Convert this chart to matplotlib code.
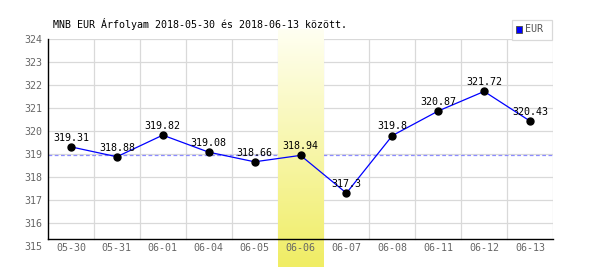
import numpy as np
import matplotlib.pyplot as plt
from matplotlib.patches import Rectangle

dates = ['05-30', '05-31', '06-01', '06-04', '06-05', '06-06',
         '06-07', '06-08', '06-11', '06-12', '06-13']
rates = [319.31, 318.88, 319.82, 319.08, 318.66, 318.94,
         317.3, 319.8, 320.87, 321.72, 320.43]
labels = ['319.31', '318.88', '319.82', '319.08', '318.66', '318.94',
          '317.3', '319.8', '320.87', '321.72', '320.43']
ref_level = 318.96
highlight = '06-06'
y_ticks = list(range(315, 325))
title = 'MNB EUR Árfolyam 2018-05-30 és 2018-06-13 között.'

mono = 'DejaVu Sans Mono'
fs = 7.2

fig = plt.figure(figsize=(6, 2.7), dpi=100)
ax = fig.add_axes([0.08, 0.0889, 0.8417, 0.7667])

x = np.arange(len(dates))
y_lo, y_hi = 315, 324
axis_y = 315.32

ax.set_xlim(-0.5, len(dates) - 0.5)
ax.set_ylim(y_lo, y_hi)

# grid
for yv in y_ticks[1:]:
    ax.plot([-0.5, len(dates) - 0.5], [yv, yv], color='#d9d9d9', lw=0.9, zorder=1)
for xv in np.arange(0.5, len(dates), 1):
    ax.plot([xv, xv], [axis_y, y_hi], color='#d9d9d9', lw=0.9, zorder=1)

ax.axhline(ref_level, color='#8c8cff', lw=0.9, ls=(0, (3, 2)), zorder=2)

# yellow gradient over the highlighted day (covers grid, under the data)
hi = dates.index(highlight)
grad = np.linspace(0, 1, 256).reshape(-1, 1)
top_c = np.array([255, 255, 242]) / 255
bot_c = np.array([240, 237, 100]) / 255
img = top_c + (bot_c - top_c) * grad[:, :, None] * np.ones((1, 1, 3))
ax.imshow(img, extent=(hi - 0.5, hi + 0.5, 314.09, 324.43), aspect='auto',
          origin='upper', zorder=2.5, clip_on=False)

ax.plot(x, rates, color='#0000ff', lw=0.9, zorder=3)
ax.plot(x, rates, 'o', color='black', ms=5, zorder=4)
for xi, yi, s in zip(x, rates, labels):
    ax.annotate(s, (xi, yi), xytext=(0, 4.5), textcoords='offset points',
                ha='center', va='baseline', fontsize=fs, family=mono,
                color='black', zorder=5)

for s in ['top', 'right']:
    ax.spines[s].set_visible(False)
ax.spines['left'].set_bounds(axis_y, y_hi)
ax.spines['bottom'].set_position(('data', axis_y))
ax.spines['left'].set_linewidth(1.0)
ax.spines['bottom'].set_linewidth(1.0)
ax.spines['left'].set_zorder(6)
ax.spines['bottom'].set_zorder(6)

ax.set_yticks(y_ticks)
ax.set_yticklabels([str(v) for v in y_ticks], family=mono, fontsize=fs, color='#666666')
ax.set_xticks(x)
ax.set_xticklabels(dates, family=mono, fontsize=fs, color='#666666')
ax.tick_params(axis='y', length=0, pad=4)
ax.tick_params(axis='x', length=0, pad=3)
ax.xaxis.set_zorder(6)
ax.yaxis.set_zorder(6)

fig.text(53 / 600, 1 - 24 / 270, title, family=mono, fontsize=fs,
         ha='left', va='center', color='black')

# legend box
fig.patches.append(Rectangle((512 / 600, 1 - 39.5 / 270), 40 / 600, 20 / 270,
                             transform=fig.transFigure, facecolor='white',
                             edgecolor='#d9d9d9', lw=0.9))
fig.patches.append(Rectangle((515.5 / 600, 1 - 32.5 / 270), 6 / 600, 6 / 270,
                             transform=fig.transFigure, facecolor='#0000ff',
                             edgecolor='#555555', lw=0.7))
fig.text(524.5 / 600, 1 - 29.5 / 270, 'EUR', family=mono, fontsize=fs,
         ha='left', va='center', color='#555555')

fig.savefig('out.png', dpi=100)
